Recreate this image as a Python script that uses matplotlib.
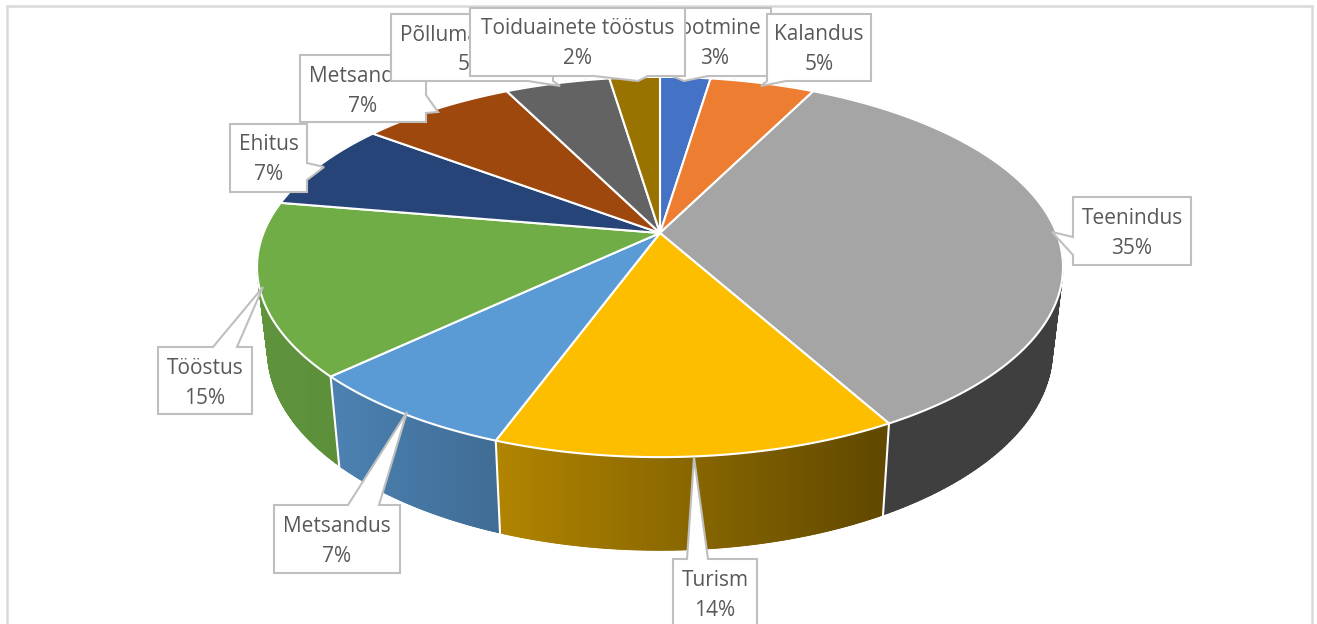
import numpy as np
import matplotlib
matplotlib.use("Agg")
import matplotlib.pyplot as plt
from matplotlib.collections import PolyCollection
from matplotlib.patches import Polygon, Rectangle

categories = ["Tootmine", "Kalandus", "Teenindus", "Turism", "Metsandus",
              "Tööstus", "Ehitus", "Metsandus", "Põllumajandus", "Toiduainete tööstus"]
values = [2.4, 5.0, 34.5, 13.7, 7.4, 14.7, 7.5, 7.4, 5.0, 2.4]
percent_labels = [3, 5, 35, 14, 7, 15, 7, 7, 5, 2]
colors = ["#4472c4", "#ed7d31", "#a5a5a5", "#fdbe00", "#5b9bd5",
          "#70ad47", "#264478", "#9e480e", "#636363", "#997300"]

# pie plane -> image pixels, a small perspective tilt
CX, CY = 660, 233
R, B, K = 396.5, 184.0, 0.179
DROP, SHRINK_X, SHRINK_Y = 82, 0.974, 1.05


def rim(angle):
    """Screen offset from the pie centre, angle clockwise from the top in radians"""
    x, y = np.sin(angle), np.cos(angle)
    w = 1 + K * y
    return R * x / w, -B * y / w


def side_shade(x):
    return np.interp(x, [260, 340, 500, 690, 880, 1062], [0.85, 0.83, 0.70, 0.54, 0.385, 0.385])


# box x0, y0, x1, y1, pointer tip, pointer side, base start, base end
callouts = [
    (659, 8, 771, 76, (684, 81), "bottom", 672, 708),
    (767, 14, 871, 81, (761, 86), "bottom", 767, 786),
    (1073, 197, 1191, 265, (1052, 232), "left", 237, 255),
    (673, 559, 757, 626, (694, 457), "top", 687, 708),
    (274, 505, 400, 573, (407, 412), "top", 348, 379),
    (158, 347, 252, 414, (263, 287), "top", 213, 237),
    (230, 124, 307, 192, (324, 167), "right", 163, 180),
    (300, 55, 426, 122, (438, 112), "right", 95, 113),
    (391, 14, 553, 81, (560, 86), "bottom", 528, 553),
    (470, 8, 685, 76, (638, 81), "bottom", 594, 648),
]

fig = plt.figure(figsize=(13.17, 6.24), dpi=100)
ax = fig.add_axes([0, 0, 1, 1])
ax.axis("off")

ax.add_patch(Rectangle((7, 6), 1305, 700, facecolor="white", edgecolor="#d9d9d9", linewidth=1.8, zorder=0))

edges = np.radians(np.cumsum([0] + values) / np.sum(values) * 360)

# sides first, the top surface hides the back part of them
for i in range(len(values)):
    t = np.linspace(edges[i], edges[i + 1], 160)
    dx, dy = rim(t)
    x_top, y_top = CX + dx, CY + dy
    x_bot, y_bot = CX + SHRINK_X * dx, CY + DROP + SHRINK_Y * dy
    base = np.array(matplotlib.colors.to_rgb(colors[i]))

    # thin quads give the outline where the rim turns away
    quads = []
    quad_colors = []
    for j in range(len(t) - 1):
        quads.append([(x_top[j], y_top[j]), (x_top[j + 1], y_top[j + 1]),
                      (x_bot[j + 1], y_bot[j + 1]), (x_bot[j], y_bot[j])])
        quad_colors.append(base * side_shade((x_top[j] + x_top[j + 1]) / 2))
    ax.add_collection(PolyCollection(quads, facecolors=quad_colors, edgecolors=quad_colors,
                                     linewidths=0.6, zorder=1.5))

    # smooth gradient over them, otherwise the quads leave stripes
    pts = np.column_stack([np.r_[x_top, x_bot[::-1]], np.r_[y_top, y_bot[::-1]]])
    xs = np.linspace(pts[:, 0].min(), pts[:, 0].max(), 200)
    gradient = base[None, None, :] * side_shade(xs)[None, :, None]
    im = ax.imshow(gradient, extent=(xs[0], xs[-1], pts[:, 1].max(), pts[:, 1].min()),
                   aspect="auto", interpolation="bilinear", zorder=2)
    im.set_clip_path(Polygon(pts, closed=True, transform=ax.transData))

ax.set_xlim(0, 1317)
ax.set_ylim(624, 0)

for e in edges[:-1]:
    dx, dy = rim(e)
    ax.plot([CX + dx, CX + SHRINK_X * dx], [CY + dy, CY + DROP + SHRINK_Y * dy],
            color="white", lw=1.5, zorder=3)

for i in range(len(values)):
    t = np.linspace(edges[i], edges[i + 1], 120)
    dx, dy = rim(t)
    pts = np.column_stack([np.r_[CX, CX + dx], np.r_[CY, CY + dy]])
    ax.add_patch(Polygon(pts, closed=True, facecolor=colors[i], edgecolor="white",
                         linewidth=1.5, joinstyle="round", zorder=4))

for i, c in enumerate(callouts):
    x0, y0, x1, y1, tip, side, b0, b1 = c
    if side == "bottom":
        pts = [(x0, y0), (x1, y0), (x1, y1), (b1, y1), tip, (b0, y1), (x0, y1)]
    elif side == "top":
        pts = [(x0, y0), (b0, y0), tip, (b1, y0), (x1, y0), (x1, y1), (x0, y1)]
    elif side == "left":
        pts = [(x0, y0), (x1, y0), (x1, y1), (x0, y1), (x0, b1), tip, (x0, b0)]
    else:
        pts = [(x0, y0), (x1, y0), (x1, b0), tip, (x1, b1), (x1, y1), (x0, y1)]
    z = 10 + i
    ax.add_patch(Polygon(pts, closed=True, facecolor="white", edgecolor="#bfbfbf",
                         linewidth=1.5, joinstyle="miter", zorder=z))
    xc = (x0 + x1) / 2
    ax.text(xc, y0 + 21, categories[i], ha="center", va="center", fontsize=15,
            family="Open Sans", color="#595959", zorder=z)
    ax.text(xc, y0 + 51, f"{percent_labels[i]}%", ha="center", va="center", fontsize=15,
            family="Open Sans", color="#595959", zorder=z)

fig.savefig("out.png", dpi=100)
